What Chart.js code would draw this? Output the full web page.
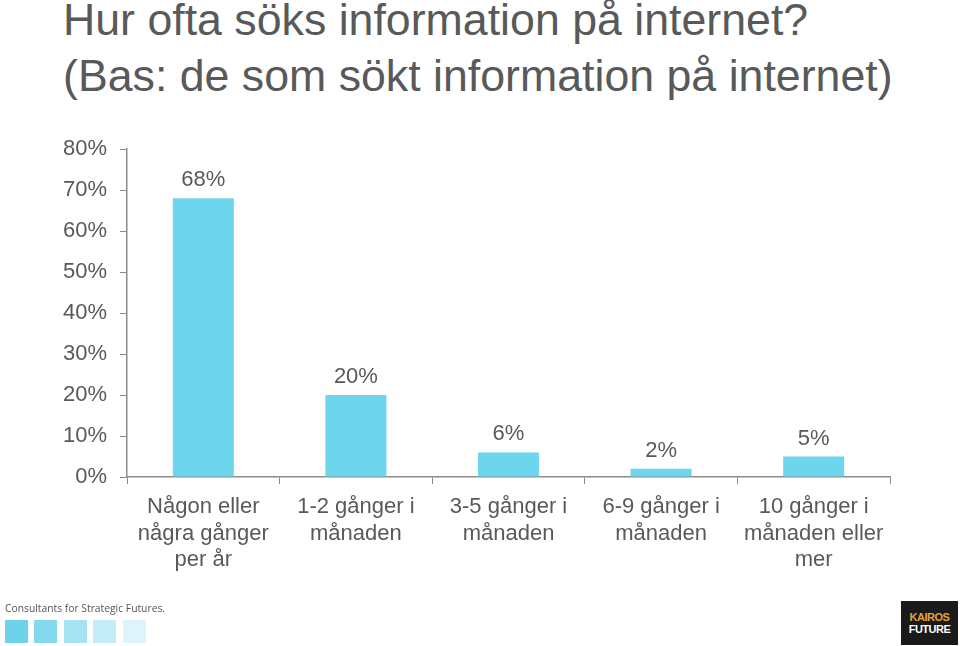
<!DOCTYPE html>
<html>
<head>
<meta charset="utf-8">
<script src="https://cdn.jsdelivr.net/npm/chart.js@4.4.0/dist/chart.umd.min.js"></script>
<style>
    body{ margin: 0; background: #fff; }
    #wrap{ position: relative; width: 960px; height: 646px; overflow: hidden; }
    #title{
        position: absolute; left: 63px; top: -8px;
        font-family: "Liberation Sans", Arial, sans-serif;
        font-size: 44.7px; line-height: 56px; color: #595959;
        white-space: nowrap;
    }
    #chart{ position: absolute; left: 0; top: 0; }
    #tagline{
        position: absolute; left: 5px; top: 601px;
        font-family: "Open Sans", sans-serif; font-size: 10.3px; color: #555;
    }
    .sq{ position: absolute; top: 620px; width: 23px; height: 23px; }
    #logo{
        position: absolute; left: 901px; top: 601px; width: 57px; height: 44px;
        background: #1a1a1a; font-family: "Liberation Sans", sans-serif;
        font-weight: bold; font-size: 11px; line-height: 12px; text-align: center;
        letter-spacing: -0.5px;
    }
</style>
</head>
<body>
<div id="wrap">
    <div id="title">Hur ofta söks information på internet?<br>(Bas: de som sökt information på internet)</div>
    <canvas id="chart" width="960" height="646"></canvas>
    <div id="tagline">Consultants for Strategic Futures.</div>
    <div class="sq" style="left:5px;background:#6ed2eb"></div>
    <div class="sq" style="left:34px;background:#84d9ee"></div>
    <div class="sq" style="left:64px;background:#a6e2f2"></div>
    <div class="sq" style="left:93px;background:#c4ecf6"></div>
    <div class="sq" style="left:123px;background:#dff4fa"></div>
    <div id="logo"><div style="padding-top:10px;color:#e8a233">KAIROS</div><div style="color:#fff">FUTURE</div></div>
</div>
<script>
const categories = [
    ['Någon eller', 'några gånger', 'per år'],
    ['1-2 gånger i', 'månaden'],
    ['3-5 gånger i', 'månaden'],
    ['6-9 gånger i', 'månaden'],
    ['10 gånger i', 'månaden eller', 'mer']
]
const values = [68, 20, 6, 2, 5]
const yTicks = [0, 10, 20, 30, 40, 50, 60, 70, 80]

const TEXT_COLOR = '#595959'
const AXIS_COLOR = '#8c8c8c'
const BAR_COLOR = '#6dd5ec'
const FONT = '"Liberation Sans", Arial, sans-serif'

// draws the percent value above each bar
const valueLabels = {
    id: 'valueLabels',
    afterDatasetsDraw(chart){
        const ctx = chart.ctx
        const meta = chart.getDatasetMeta(0)
        ctx.save()
        ctx.font = '22px ' + FONT
        ctx.fillStyle = TEXT_COLOR
        ctx.textAlign = 'center'
        ctx.textBaseline = 'middle'
        meta.data.forEach(function(bar, i){
            ctx.fillText(values[i] + '%', bar.x, bar.y - 18)
        })
        ctx.restore()
    }
}

const ctx = document.getElementById('chart').getContext('2d')
new Chart(ctx, {
    type: 'bar',
    data: {
        labels: categories,
        datasets: [{
            data: values,
            backgroundColor: BAR_COLOR,
            borderWidth: 0,
            categoryPercentage: 1,
            barPercentage: 0.4
        }]
    },
    options: {
        responsive: false,
        animation: false,
        layout: { padding: { top: 149, left: 63, right: 70, bottom: 0 } },
        plugins: {
            legend: { display: false },
            tooltip: { enabled: false }
        },
        scales: {
            x: {
                afterFit(scale){ scale.height = 169 },
                border: { color: AXIS_COLOR, width: 1.5 },
                grid: { drawOnChartArea: false, tickLength: 7, tickColor: AXIS_COLOR, offset: true },
                ticks: {
                    color: TEXT_COLOR,
                    padding: 10,
                    maxRotation: 0,
                    autoSkip: false,
                    font: { family: FONT, size: 22, lineHeight: 1.2 }
                }
            },
            y: {
                min: 0,
                max: 80,
                afterFit(scale){ scale.width = 64 },
                afterBuildTicks(scale){ scale.ticks = yTicks.map(v => ({ value: v })) },
                border: { color: AXIS_COLOR, width: 1.5 },
                grid: { drawOnChartArea: false, tickLength: 7, tickColor: AXIS_COLOR },
                ticks: {
                    color: TEXT_COLOR,
                    padding: 13,
                    font: { family: FONT, size: 22 },
                    callback: v => v + '%'
                }
            }
        }
    },
    plugins: [valueLabels]
})
</script>
</body>
</html>
